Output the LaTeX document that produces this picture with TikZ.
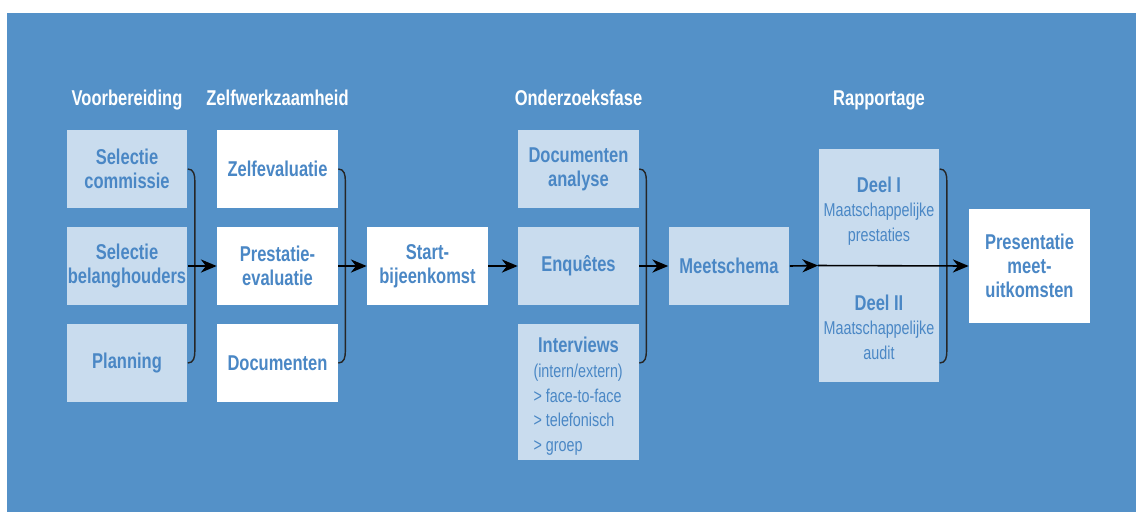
\documentclass[tikz,border=0pt]{standalone}
\usepackage{fontspec}
\setmainfont{Liberation Sans}[FakeStretch=0.77]
\usetikzlibrary{arrows.meta}
\definecolor{bgblue}{RGB}{84,145,200}
\definecolor{boxblue}{RGB}{201,220,238}
\definecolor{txtblue}{RGB}{74,135,197}

\begin{document}
\begin{tikzpicture}[x=0.02cm,y=-0.02cm,
		phase/.style={font=\bfseries\fontsize{12.2}{14}\selectfont,text=white,anchor=base},
		lbox/.style={fill=boxblue,text=txtblue,inner sep=0pt,minimum width=2.42cm,minimum height=1.56cm,align=center,font=\bfseries\fontsize{12.2}{13.8}\selectfont},
		wbox/.style={lbox,fill=white},
		small/.style={text=txtblue,inner sep=0pt,align=center,font=\fontsize{10.6}{14}\selectfont},
		brace/.style={line width=0.8pt,color=black!85},
		flow/.style={line width=0.9pt,-{Stealth[length=9pt,width=7.5pt]}}]
		\useasboundingbox (0,0) rectangle (1136,512);
		\fill[color=bgblue] (7,13) rectangle (1136,512);
		% phases
		\node[phase] (h1) at (127,105) {Voorbereiding};
		\node[phase] (h2) at (277.5,105) {Zelfwerkzaamheid};
		\node[phase] (h3) at (578.5,105) {Onderzoeksfase};
		\node[phase] (h4) at (879,105) {Rapportage};
		% voorbereiding
		\node[lbox] (sc) at (127,169) {Selectie\\commissie};
		\node[lbox] (sb) at (127,266) {Selectie\\belanghouders};
		\node[lbox] (plan) at (127,363) {Planning};
		% zelfwerkzaamheid
		\node[wbox] (zelf) at (277.5,169) {Zelfevaluatie};
		\node[wbox] (prest) at (277.5,266) {Prestatie-\\evaluatie};
		\node[wbox] (docs) at (277.5,363) {Documenten};
		\node[wbox] (start) at (427.5,266) {Start-\\bijeenkomst};
		% onderzoeksfase
		\node[lbox] (docan) at (578.5,169) {Documenten\\analyse};
		\node[lbox] (enq) at (578.5,266) {Enquêtes};
		\node[lbox,minimum height=2.72cm] (intv) at (578.5,392) {};
		\node[small,anchor=north] (intvtxt) at (578.5,337) {{\bfseries\fontsize{12.2}{14}\selectfont Interviews}\\
			\makebox[1.8cm][l]{(intern/extern)}\\
			\makebox[1.8cm][l]{> face-to-face}\\
			\makebox[1.8cm][l]{> telefonisch}\\
			\makebox[1.8cm][l]{> groep}};
		\node[lbox] (meet) at (729,266) {Meetschema};
		% rapportage
		\node[lbox,minimum height=4.66cm] (rap) at (879,265.5) {};
		\node[small] (deel1) at (879,211) {{\bfseries\fontsize{12.2}{14}\selectfont Deel I}\\Maatschappelijke\\prestaties};
		\node[small] (deel2) at (879,327) {{\bfseries\fontsize{12.2}{14}\selectfont Deel II}\\Maatschappelijke\\audit};
		\node[wbox,minimum width=2.42cm,minimum height=2.28cm] (pres) at (1029.5,266) {Presentatie\\meet-\\uitkomsten};
		% braces
		\draw[brace] (sc.east) .. controls +(6,0) and +(0,-6) .. ([shift={(7,12)}]sc.east)
			-- ([shift={(7,-12)}]plan.east) .. controls +(0,6) and +(6,0) .. (plan.east);
		\draw[brace] (zelf.east) .. controls +(6,0) and +(0,-6) .. ([shift={(7,12)}]zelf.east)
			-- ([shift={(7,-12)}]docs.east) .. controls +(0,6) and +(6,0) .. (docs.east);
		\draw[brace] (docan.east) .. controls +(6,0) and +(0,-6) .. ([shift={(7,12)}]docan.east)
			-- ([shift={(7,-12)}]intv.east |- plan.east) .. controls +(0,6) and +(6,0) .. (intv.east |- plan.east);
		\draw[brace] (rap.east |- sc.east) .. controls +(6,0) and +(0,-6) .. ([shift={(7,12)}]rap.east |- sc.east)
			-- ([shift={(7,-12)}]rap.east |- plan.east) .. controls +(0,6) and +(6,0) .. (rap.east |- plan.east);
		% arrows
		\draw[flow] (sb.east) -- (prest.west);
		\draw[flow] (prest.east) -- (start.west);
		\draw[flow] (start.east) -- (enq.west);
		\draw[flow] (enq.east) -- (meet.west);
		\draw[flow] (meet.east) -- (rap.west);
		\draw[flow] (rap.west) -- (pres.west);
	\end{tikzpicture}
\end{document}
